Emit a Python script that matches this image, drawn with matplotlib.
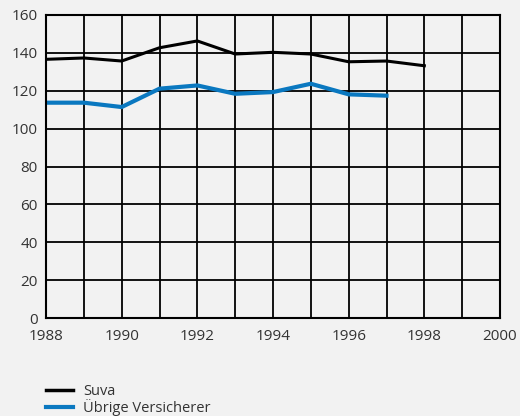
import matplotlib
matplotlib.use("Agg")
import matplotlib.pyplot as plt
from matplotlib.lines import Line2D

years = [1988, 1989, 1990, 1991, 1992, 1993, 1994, 1995, 1996, 1997, 1998]
suva = [136.6, 137.3, 135.7, 142.7, 146.3, 139.4, 140.3, 139.4, 135.3, 135.7, 133.2]
years_other = [1988, 1989, 1990, 1991, 1992, 1993, 1994, 1995, 1996, 1997]
other = [113.7, 113.7, 111.4, 121.1, 122.8, 118.4, 119.3, 123.7, 118.1, 117.4]

BG = "#f2f2f2"
BLUE = "#0a78c0"

plt.rcParams['font.family'] = ['Open Sans', 'DejaVu Sans']

fig = plt.figure(figsize=(5.2, 4.16), dpi=100, facecolor=BG)
ax = fig.add_axes([46/520, 1 - 318/416, 454/520, 303/416])
ax.set_facecolor(BG)

ax.plot(years, suva, color="black", lw=2.2, solid_joinstyle="miter")
ax.plot(years_other, other, color=BLUE, lw=3, solid_joinstyle="miter")

ax.set_xlim(1988, 2000)
ax.set_ylim(0, 160)
ax.set_xticks(range(1988, 2001, 2))
ax.set_xticks(range(1988, 2001, 1), minor=True)
ax.set_yticks(range(0, 161, 20))
ax.grid(True, which="both", color="black", lw=1.3)
ax.set_axisbelow(True)
for s in ax.spines.values():
    s.set_linewidth(1.5)
ax.tick_params(which="both", length=0, labelsize=11, colors="#333333")
ax.tick_params(axis="x", pad=8)
ax.tick_params(axis="y", pad=6)

handles = [Line2D([], [], color="black", lw=2.5), Line2D([], [], color=BLUE, lw=3)]
fig.legend(handles, ["Suva", "Übrige Versicherer"], loc="upper left",
           bbox_to_anchor=(46/520, 1 - 384/416), frameon=False, fontsize=10.5,
           handlelength=1.85, handletextpad=0.7, labelspacing=0.0,
           borderpad=0, borderaxespad=0, labelcolor="#333333")

fig.savefig("out.png", dpi=100, facecolor=BG)
